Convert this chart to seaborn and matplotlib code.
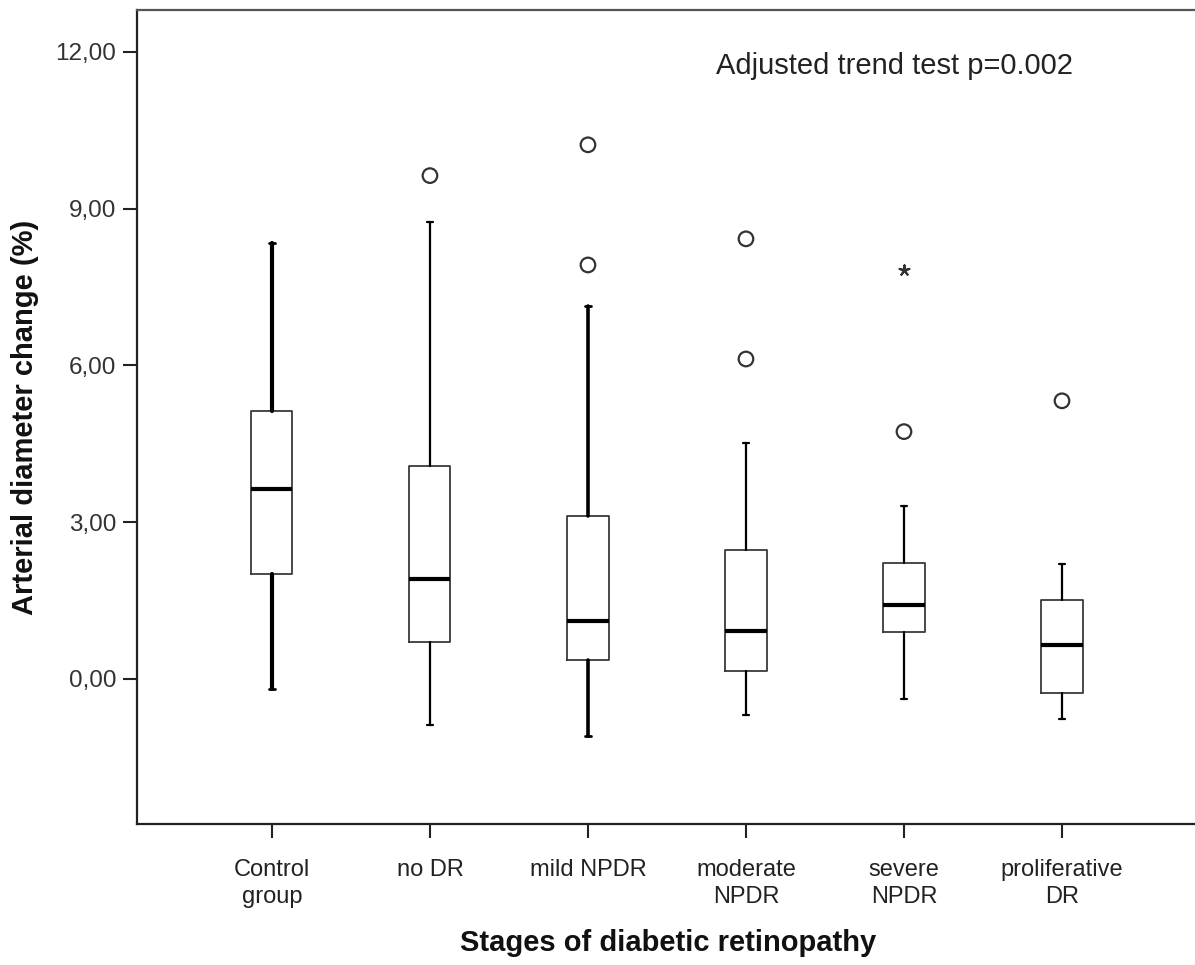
import matplotlib
matplotlib.use("Agg")
import matplotlib.pyplot as plt
import seaborn as sns
import pandas as pd

# stages on the x axis
stages = ["Control\ngroup", "no DR", "mild NPDR", "moderate\nNPDR", "severe\nNPDR", "proliferative\nDR"]

# box statistics (arterial diameter change, %)
whislo = [-0.19, -0.88, -1.09, -0.69, -0.38, -0.77]
q1 = [2.01, 0.71, 0.36, 0.15, 0.90, -0.27]
med = [3.64, 1.91, 1.11, 0.92, 1.42, 0.65]
q3 = [5.13, 4.08, 3.12, 2.47, 2.22, 1.51]
whishi = [8.34, 8.75, 7.14, 4.52, 3.31, 2.20]

# outliers (circles) and extremes (stars)
out_stage = [1, 2, 2, 3, 3, 4, 5]
out_value = [9.63, 10.22, 7.92, 8.42, 6.12, 4.73, 5.32]
ext_stage = [4]
ext_value = [7.83]

yticks = [0, 3, 6, 9, 12]
ytick_labels = ["0,00", "3,00", "6,00", "9,00", "12,00"]

sns.set_style("white")
plt.rcParams['font.family'] = ['Liberation Sans', 'DejaVu Sans']

fig = plt.figure(figsize=(11.95, 9.65), dpi=100)
ax = fig.add_axes([137 / 1195, 1 - 824 / 965, (1195 - 137) / 1195, (824 - 10) / 965])

stats = []
for i in range(len(stages)):
    stats.append(dict(whislo=whislo[i], q1=q1[i], med=med[i], q3=q3[i], whishi=whishi[i], fliers=[]))

whisker_lw = [3.0, 1.6, 2.6, 1.6, 1.6, 1.6]
bp = ax.bxp(stats, positions=range(len(stages)), widths=0.26, showfliers=False,
            capwidths=0.04, patch_artist=False,
            boxprops=dict(color="#3a3a3a", linewidth=1.3),
            medianprops=dict(color="black", linewidth=3.0),
            capprops=dict(color="black", linewidth=1.6),
            whiskerprops=dict(color="black", linewidth=1.6))
for i in range(len(stages)):
    for w in bp["whiskers"][2 * i:2 * i + 2]:
        w.set_linewidth(whisker_lw[i])
    for c in bp["caps"][2 * i:2 * i + 2]:
        c.set_linewidth(min(whisker_lw[i], 2.0))

df_out = pd.DataFrame({"stage": out_stage, "value": out_value})
sns.scatterplot(data=df_out, x="stage", y="value", ax=ax, marker="o", s=110,
                facecolor="none", edgecolor="#333333", linewidth=1.6, zorder=5)
df_ext = pd.DataFrame({"stage": ext_stage, "value": ext_value})
sns.scatterplot(data=df_ext, x="stage", y="value", ax=ax, marker=(5, 2, 0), s=55,
                color="#333333", edgecolor="#333333", linewidth=1.5, zorder=5)

ax.set_xlim(-0.854, (1195 - 272) / 158)
ax.set_ylim(-2.78, 12.80)
ax.set_xticks(range(len(stages)))
ax.set_xticklabels(stages, fontsize=17, color="#222222", linespacing=1.3)
ax.set_yticks(yticks)
ax.set_yticklabels(ytick_labels, fontsize=17.5, color="#333333")
ax.tick_params(axis="both", direction="out", length=10, width=1.5, color="#222222",
               left=True, bottom=True)
ax.tick_params(axis="x", pad=15)
ax.tick_params(axis="y", pad=5)

for side in ["left", "bottom"]:
    ax.spines[side].set_color("#222222")
    ax.spines[side].set_linewidth(1.6)
ax.spines["top"].set_color("#555555")
ax.spines["top"].set_linewidth(1.6)
ax.spines["right"].set_visible(False)

ax.set_xlabel("")
ax.set_ylabel("")
fig.text(25 / 1195, 1 - 417 / 965, "Arterial diameter change (%)", rotation=90,
         fontsize=21, fontweight="bold", ha="center", va="center", color="#111111")
fig.text(668 / 1195, 1 - 943 / 965, "Stages of diabetic retinopathy",
         fontsize=21, fontweight="bold", ha="center", va="center", color="#111111")
fig.text(716 / 1195, 1 - 66 / 965, "Adjusted trend test p=0.002",
         fontsize=21, ha="left", va="center", color="#222222")

fig.savefig("out.png", dpi=100)
